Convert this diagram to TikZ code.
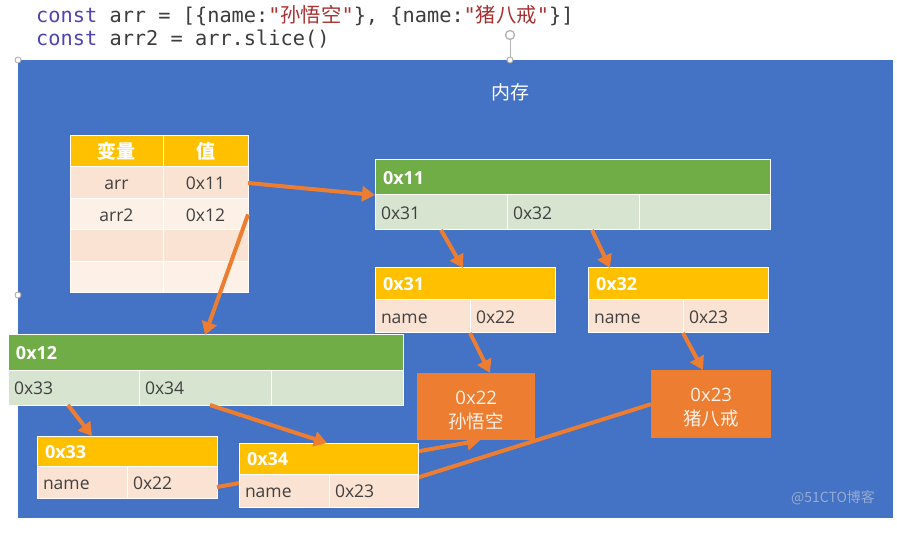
\documentclass[tikz,border=0pt]{standalone}
\usepackage{fontspec}
\setmainfont{Open Sans}
\setmonofont{DejaVu Sans Mono}
\newfontfamily\cjk{Noto Sans CJK SC}
\usetikzlibrary{arrows.meta}
\pgfdeclarelayer{front}
\pgfsetlayers{main,front}
\definecolor{bgblue}{HTML}{4472C4}
\definecolor{hgreen}{HTML}{70AD47}
\definecolor{lgreen}{HTML}{D6E4D0}
\definecolor{hyellow}{HTML}{FFC000}
\definecolor{lorA}{HTML}{FBE3D3}
\definecolor{lorB}{HTML}{FDF0E7}
\definecolor{orng}{HTML}{ED7D31}
\definecolor{txt}{HTML}{404040}
\definecolor{kw}{RGB}{80,66,178}
\definecolor{str}{RGB}{168,48,48}
\definecolor{codetxt}{RGB}{60,60,60}
\definecolor{wm}{RGB}{150,170,210}
\begin{document}
\begin{tikzpicture}[x=1pt,y=-1pt,
  box/.style={anchor=north west, draw=white, line width=1pt, inner ysep=0pt, outer sep=0pt, text height=14pt, text depth=0pt},
  hdr/.style={box, inner xsep=8pt, align=left, text=white, font=\fontsize{18}{18}\selectfont\bfseries},
  cellL/.style={box, inner xsep=6pt, align=left, text=txt, font=\fontsize{17.5}{17.5}\selectfont},
  cellC/.style={box, inner xsep=0pt, align=center, text=txt, font=\fontsize{17.5}{17.5}\selectfont},
  thead/.style={box, inner xsep=0pt, fill=hyellow, text=white, font=\cjk\fontsize{19}{19}\selectfont\bfseries},
  objbox/.style={anchor=north west, fill=orng, inner sep=0pt, align=center, text=white!90!orng, font=\fontsize{18.5}{24}\selectfont},
  arr/.style={draw=orng, line width=4pt, -{Triangle[width=15pt,length=13pt]}},
  line/.style={draw=orng, line width=4pt},
  handle/.style={circle, draw=gray!70, fill=white, line width=0.8pt, minimum size=6pt, inner sep=0pt},
  codef/.style={anchor=base west, inner sep=0pt, text=codetxt, font=\ttfamily\fontsize{20.3}{20.3}\selectfont}
]
\useasboundingbox (0,0) rectangle (897,545);
\fill[white] (0,0) rectangle (897,545);

% code
\node[codef] (code1) at (36,23) {\textcolor{kw}{const} arr = [\{name:\textcolor{str}{"{\cjk 孙悟空}"}\}, \{name:\textcolor{str}{"{\cjk 猪八戒}"}\}]};
\node[codef] (code2) at (36,46) {\textcolor{kw}{const} arr2 = arr.slice()};

% memory background
\node[anchor=north west, fill=bgblue, minimum width=875pt, minimum height=458pt, inner sep=0pt, outer sep=0pt] (mem) at (18,60) {};
\node[text=white, font=\cjk\fontsize{19}{19}\selectfont] (memlbl) at (510,92) {内存};

% handles
\node[handle] (hd1) at (18,60) {};
\node[handle] (hd2) at (510,60) {};
\node[handle] (hd3) at (18,295) {};
\node[circle, draw=gray!60, line width=1.3pt, minimum size=9pt, inner sep=0pt] (rot) at (510,35) {};
\draw[gray!60, line width=0.8pt] (hd2) -- (rot);

% variable table
\node[thead, minimum width=93pt, minimum height=31pt] (th1) at (70,136) {变量};
\node[thead, minimum width=85pt, minimum height=31pt] (th2) at (163,136) {值};
\node[cellC, fill=lorA, minimum width=93pt, minimum height=32pt] (t1n) at (70,167) {arr};
\node[cellC, fill=lorA, minimum width=85pt, minimum height=32pt] (t1v) at (163,167) {0x11};
\node[cellC, fill=lorB, minimum width=93pt, minimum height=31pt] (t2n) at (70,199) {arr2};
\node[cellC, fill=lorB, minimum width=85pt, minimum height=31pt] (t2v) at (163,199) {0x12};
\node[cellC, fill=lorA, minimum width=93pt, minimum height=32pt] (t3n) at (70,230) {};
\node[cellC, fill=lorA, minimum width=85pt, minimum height=32pt] (t3v) at (163,230) {};
\node[cellC, fill=lorB, minimum width=93pt, minimum height=31pt] (t4n) at (70,262) {};
\node[cellC, fill=lorB, minimum width=85pt, minimum height=31pt] (t4v) at (163,262) {};

% array 0x11
\node[hdr, fill=hgreen, text width=379pt, minimum height=35pt] (h11) at (375,160) {0x11};
\node[cellL, fill=lgreen, text width=120pt, minimum height=35pt] (c11a) at (375,195) {0x31};
\node[cellL, fill=lgreen, text width=120pt, minimum height=35pt] (c11b) at (507,195) {0x32};
\node[cellL, fill=lgreen, text width=119pt, minimum height=35pt] (c11c) at (639,195) {};

% array 0x12
\node[hdr, fill=hgreen, text width=379pt, minimum height=35pt] (h12) at (8,335) {0x12};
\node[cellL, fill=lgreen, text width=119pt, minimum height=35pt] (c12a) at (8,370) {0x33};
\node[cellL, fill=lgreen, text width=120pt, minimum height=35pt] (c12b) at (139,370) {0x34};
\node[cellL, fill=lgreen, text width=120pt, minimum height=35pt] (c12c) at (271,370) {};

% object 0x31
\node[hdr, fill=hyellow, text width=164pt, minimum height=32pt] (h31) at (375,268) {0x31};
\node[cellL, fill=lorA, text width=83pt, minimum height=33pt] (c31a) at (375,300) {name};
\node[cellL, fill=lorA, text width=73pt, minimum height=33pt] (c31b) at (470,300) {0x22};

% object 0x32
\node[hdr, fill=hyellow, text width=164pt, minimum height=32pt] (h32) at (588,268) {0x32};
\node[cellL, fill=lorA, text width=83pt, minimum height=33pt] (c32a) at (588,300) {name};
\node[cellL, fill=lorA, text width=73pt, minimum height=33pt] (c32b) at (683,300) {0x23};

% object 0x33
\node[hdr, fill=hyellow, text width=164pt, minimum height=30pt] (h33) at (37,436) {0x33};
\node[cellL, fill=lorA, text width=78pt, minimum height=32pt] (c33a) at (37,466) {name};
\node[cellL, fill=lorA, text width=78pt, minimum height=32pt] (c33b) at (127,466) {0x22};

% string 0x22
\node[objbox, minimum width=118pt, minimum height=67pt] (o22) at (417,373) {\rule{0pt}{21pt}0x22\\{\cjk 孙悟空}};

\begin{pgfonlayer}{front}
% object 0x34
\node[hdr, fill=hyellow, text width=163pt, minimum height=31pt] (h34) at (239,443) {0x34};
\node[cellL, fill=lorA, text width=78pt, minimum height=33pt] (c34a) at (239,474) {name};
\node[cellL, fill=lorA, text width=77pt, minimum height=33pt] (c34b) at (329,474) {0x23};

% string 0x23
\node[objbox, minimum width=120pt, minimum height=68pt] (o23) at (651,370) {\rule{0pt}{21pt}0x23\\{\cjk 猪八戒}};

% connectors on top
\draw[arr] (t1v.east) -- (h11.south west);
\draw[arr] (t2v.east) -- ([xshift=197pt]h12.north west);
\draw[arr] (c11a.south) -- ([xshift=88pt]h31.north west);
\draw[arr] ([xshift=85pt]c11b.south west) -- ([xshift=22pt]h32.north west);
\draw[arr] (c31a.south east) -- ([xshift=73pt]o22.north west);
\draw[arr] (c32b.south west) -- ([xshift=52pt]o23.north west);
\draw[arr] ([xshift=60pt]c12a.south west) -- ([xshift=55pt]h33.north west);
\draw[arr] ([xshift=71pt]c12b.south west) -- ([xshift=88pt]h34.north west);
\end{pgfonlayer}

% connectors passing behind boxes 0x34 and 0x23
\draw[arr] ([yshift=-5pt]c33b.east) -- ([xshift=63pt]o22.south west);
\draw[line] ([yshift=13pt]c34b.east) -- (o23.west);

% watermark
\node[text=wm, font=\cjk\fontsize{14}{14}\selectfont] (wmk) at (833,498) {@51CTO博客};
\end{tikzpicture}
\end{document}
